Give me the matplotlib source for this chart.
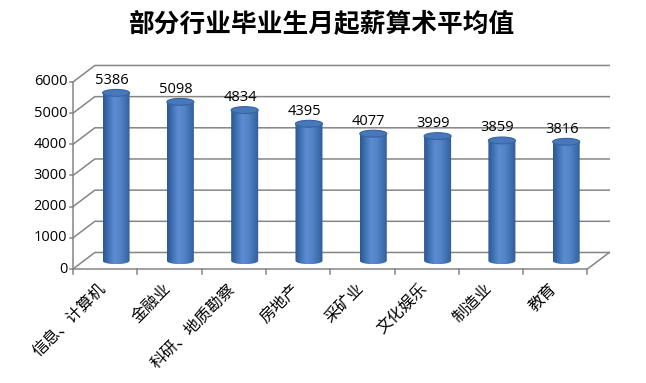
import numpy as np
import matplotlib.pyplot as plt
from matplotlib.path import Path
from matplotlib.patches import PathPatch, Ellipse
from matplotlib.colors import LinearSegmentedColormap

plt.rcParams['font.family'] = ['Noto Sans CJK SC', 'DejaVu Sans']

title = '部分行业毕业生月起薪算术平均值'
industries = ['信息、计算机', '金融业', '科研、地质勘察', '房地产',
              '采矿业', '文化娱乐', '制造业', '教育']
salaries = [5386, 5098, 4834, 4395, 4077, 3999, 3859, 3816]
yticks = [0, 1000, 2000, 3000, 4000, 5000, 6000]

# fake 3d: back wall is shifted by (DX, DY) in data units
DX, DY = 0.34, 530
R, H = 0.21, 110          # cylinder radius (x units) and ellipse half height (y units)
grid_c = '#858585'

fig = plt.figure(figsize=(6.46, 3.83), dpi=100)
ax = fig.add_axes([0, 0, 1, 1])
ax.axis('off')
n = len(industries)

# walls / gridlines
for t in yticks:
    ax.plot([0, DX, n + DX], [t, t + DY, t + DY], color=grid_c, lw=1.1, zorder=1)
    ax.plot([-0.05, 0], [t, t], color=grid_c, lw=1.1, zorder=1)
    ax.text(-0.09, t, str(t), ha='right', va='center', fontsize=10.5,
            family=['Open Sans', 'DejaVu Sans'])
ax.plot([0, 0], [0, yticks[-1]], color=grid_c, lw=1.1, zorder=1)
ax.plot([0, n, n + DX], [0, 0, DY], color=grid_c, lw=1.1, zorder=1)
for k in range(n + 1):
    ax.plot([k, k], [0, -160], color=grid_c, lw=1.1, zorder=1)

cmap = LinearSegmentedColormap.from_list(
    'cyl', ['#2d5791', '#4273b4', '#5b8cd0', '#5385c8', '#4272b2', '#305d9a'])
grad = np.linspace(0, 1, 64).reshape(1, -1)

for i, (name, v) in enumerate(zip(industries, salaries)):
    cx = i + 0.5 + DX / 2
    base = DY / 2
    top = v + DY / 2
    th = np.linspace(np.pi, 2 * np.pi, 40)
    verts = [(cx - R, top)] + list(zip(cx + R * np.cos(th), base + H * np.sin(th))) + [(cx + R, top), (cx - R, top)]
    body = PathPatch(Path(verts), facecolor='none', edgecolor='none', zorder=3)
    ax.add_patch(body)
    im = ax.imshow(grad, extent=[cx - R, cx + R, base - H, top], aspect='auto',
                   cmap=cmap, zorder=3)
    im.set_clip_path(body)
    ax.add_patch(Ellipse((cx, top), 2 * R, 2 * H, facecolor='#4878ba',
                         edgecolor='#3563a3', lw=0.8, zorder=4))
    ax.text(cx - 0.07, top + 400, str(v), ha='center', va='center', fontsize=10.5,
            family=['Open Sans', 'DejaVu Sans'], zorder=5)
    ax.text(i + 0.48, -560, name, rotation=45, rotation_mode='anchor',
            ha='right', va='center', fontsize=11.5)

fig.text(0.499, 0.935, title, ha='center', va='center', fontsize=18.5,
         fontweight='bold')

ax.set_xlim(-1.135, 8.911)
ax.set_ylim(-3657, 8630)
fig.savefig('out.png', dpi=100, facecolor='white')
